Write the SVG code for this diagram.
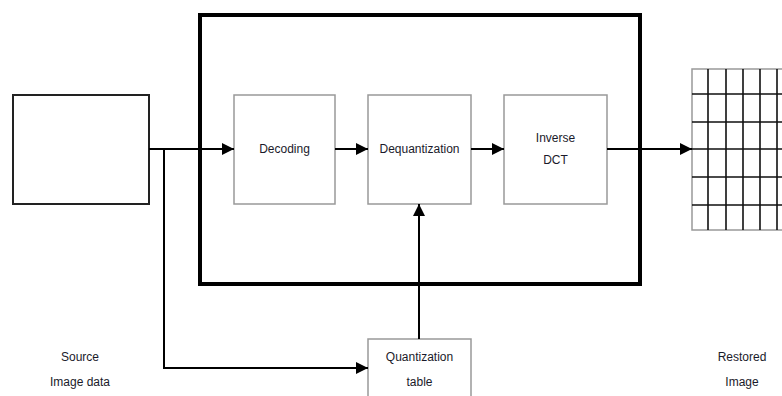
<svg xmlns="http://www.w3.org/2000/svg" width="782" height="396" viewBox="0 0 782 396">
<style>
.box{fill:#fff;stroke:#999;stroke-width:1.5}
.lbl{font-family:"Liberation Sans",Arial,sans-serif;font-size:12px;fill:#1a1a2a;text-anchor:middle}
.ln{fill:none;stroke:#000;stroke-width:2}
.g{stroke:#111;stroke-width:1.6}
</style>
<defs>
<marker id="ah" markerWidth="12" markerHeight="12" refX="12" refY="6" orient="auto" markerUnits="userSpaceOnUse" viewBox="0 0 12 12">
<path d="M0,0 L12,6 L0,12 Z" fill="#000"/>
</marker>
</defs>
<rect width="782" height="396" fill="#fff"/>
<g id="frame"><rect x="200" y="15" width="440" height="269" fill="none" stroke="#000" stroke-width="4"/></g>
<g id="source"><rect x="13" y="95" width="136" height="109" fill="#fff" stroke="#222" stroke-width="2"/></g>
<g id="decoding"><rect class="box" x="234" y="95" width="101" height="109"/><text class="lbl" x="284.5" y="153">Decoding</text></g>
<g id="dequantization"><rect class="box" x="368" y="95" width="103" height="109"/><text class="lbl" x="419.5" y="153">Dequantization</text></g>
<g id="idct"><rect class="box" x="504" y="95" width="103" height="109"/><text class="lbl" x="555.5" y="142">Inverse</text><text class="lbl" x="555.5" y="164">DCT</text></g>
<g id="qtable"><rect class="box" x="368" y="339" width="103" height="70"/><text class="lbl" x="419.5" y="361">Quantization</text><text class="lbl" x="419.5" y="386">table</text></g>
<g id="restored">
<rect x="692" y="69" width="100" height="161" fill="#fff" stroke="#999" stroke-width="1.5"/>
<path class="g" d="M708,69V230M726,69V230M743,69V230M760,69V230M777,69V230M692,94H782M692,122H782M692,149H782M692,177H782M692,205H782"/>
</g>
<g id="labels">
<text class="lbl" x="80" y="361">Source</text><text class="lbl" x="80" y="386">Image data</text>
<text class="lbl" x="742" y="361">Restored</text><text class="lbl" x="742" y="386">Image</text>
</g>
<g id="connectors">
<path class="ln" d="M149,149H234" marker-end="url(#ah)"/>
<path class="ln" d="M335,149H368" marker-end="url(#ah)"/>
<path class="ln" d="M471,149H504" marker-end="url(#ah)"/>
<path class="ln" d="M607,149H692" marker-end="url(#ah)"/>
<path class="ln" d="M164,149V368H368" marker-end="url(#ah)"/>
<path class="ln" d="M419,339V204" marker-end="url(#ah)"/>
</g>
</svg>
